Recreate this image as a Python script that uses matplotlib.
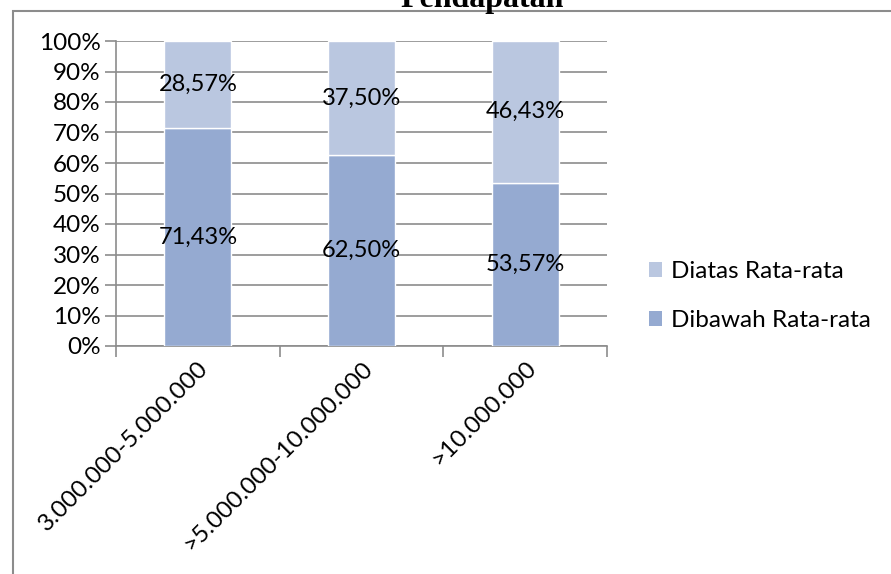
import matplotlib.pyplot as plt
from matplotlib.patches import Patch, Rectangle
import numpy as np

# Data
categories = ["3.000.000-5.000.000", ">5.000.000-10.000.000", ">10.000.000"]
dibawah = [71.43, 62.50, 53.57]
diatas = [28.57, 37.50, 46.43]
series_names = ["Diatas Rata-rata", "Dibawah Rata-rata"]

col_bawah = "#95AAD1"
col_atas = "#BAC7E0"
grid_col = "#8C8C8C"
font = ["Lato", "DejaVu Sans"]

fig = plt.figure(figsize=(8.91, 5.74), dpi=100)
ax = fig.add_axes([116 / 891, 1 - 346 / 574, 491 / 891, 305 / 574])

x = np.arange(len(categories))
w = 0.41
ax.bar(x, dibawah, w, color=col_bawah, edgecolor="white", linewidth=1, zorder=3)
ax.bar(x, diatas, w, bottom=dibawah, color=col_atas, edgecolor="white", linewidth=1, zorder=3)

# data labels
for i in range(len(categories)):
    ax.text(x[i], dibawah[i] / 2, f"{dibawah[i]:.2f}%".replace(".", ","),
            ha="center", va="center", fontsize=17, family=font, zorder=4)
    ax.text(x[i], dibawah[i] + diatas[i] / 2, f"{diatas[i]:.2f}%".replace(".", ","),
            ha="center", va="center", fontsize=17, family=font, zorder=4)

ax.set_xlim(-0.5, len(categories) - 0.5)
ax.set_ylim(0, 100)
ax.set_yticks(np.arange(0, 101, 10))
ax.set_yticklabels([f"{v}%" for v in range(0, 101, 10)], family=font, fontsize=17.5)
ax.yaxis.grid(True, color=grid_col, linewidth=1.2, zorder=0)
ax.tick_params(axis="y", length=8, color=grid_col, width=1.2, pad=3)

ax.set_xticks(x)
ax.set_xticklabels(categories, rotation=45, ha="right", rotation_mode="anchor",
                   family=font, fontsize=17.5)
ax.tick_params(axis="x", length=0, pad=8)
ax.set_xticks(np.arange(-0.5, len(categories)), minor=True)
ax.tick_params(axis="x", which="minor", length=8, color=grid_col, width=1.2)

for s in ["top", "right"]:
    ax.spines[s].set_visible(False)
for s in ["left", "bottom"]:
    ax.spines[s].set_color(grid_col)
    ax.spines[s].set_linewidth(1.2)

# legend
handles = [Patch(facecolor=col_atas, edgecolor="none"),
           Patch(facecolor=col_bawah, edgecolor="none")]
fig.legend(handles, series_names, loc="center left",
           bbox_to_anchor=(627 / 891, 1 - 296 / 574), frameon=False,
           prop={"family": font, "size": 17.5}, handlelength=0.55, handleheight=0.55,
           handletextpad=0.35, labelspacing=1.15)

# outer border
fig.patches.append(Rectangle((13 / 891, -0.1), 2, 1.1 - 11 / 574, transform=fig.transFigure,
                             fill=False, edgecolor="#8C8C8C", linewidth=1.5))

fig.text(482 / 891, 1 - 7 / 574, "Pendapatan", ha="center", va="baseline",
         family="Liberation Serif", fontweight="bold", fontsize=23)

fig.savefig("out.png", dpi=100)
